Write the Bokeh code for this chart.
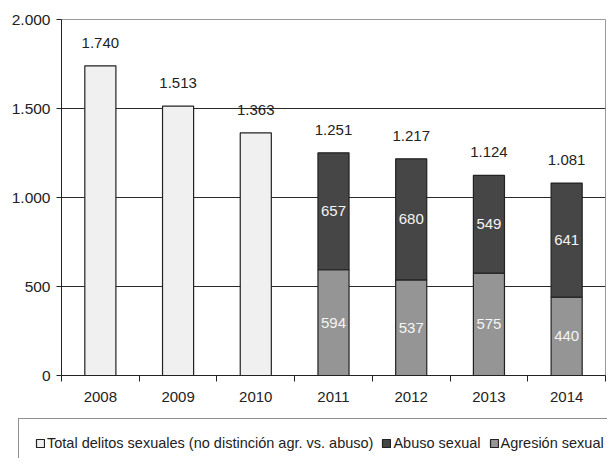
from bokeh.plotting import figure
from bokeh.layouts import column, row
from bokeh.models import (Range1d, FixedTicker, Legend, LegendItem, ColumnDataSource,
                          CustomJSTickFormatter)
from bokeh.core.properties import value
from bokeh.embed import file_html
from bokeh.resources import INLINE

# ---- data ----
years = ["2008", "2009", "2010", "2011", "2012", "2013", "2014"]
years_total = ["2008", "2009", "2010"]
total_vals = [1740, 1513, 1363]
years_split = ["2011", "2012", "2013", "2014"]
agresion = [594, 537, 575, 440]
abuso = [657, 680, 549, 641]
y_ticks = [0, 500, 1000, 1500, 2000]
legend_labels = ["Total delitos sexuales (no distinción agr. vs. abuso)",
                 "Abuso sexual", "Agresión sexual"]

FONT = "Liberation Sans"
C_LIGHT, C_DARK, C_MID, C_LINE = "#f0f0f0", "#464646", "#959595", "#222222"

def fmt(v):
    return f"{v:,}".replace(",", ".")

def xpos(y):
    return years.index(y) + 0.5

p = figure(width=607, height=418, output_backend="svg", toolbar_location=None,
           x_range=Range1d(0, len(years)), y_range=Range1d(0, 2000),
           min_border_left=61, min_border_right=2, min_border_top=19, min_border_bottom=43)
p.background_fill_color = "white"
p.border_fill_color = "white"
p.outline_line_color = "#9a9a9a"
p.outline_line_width = 1

# grid
p.xgrid.visible = False
p.ygrid.ticker = FixedTicker(ticks=[t for t in y_ticks if 0 < t < 2000])
p.ygrid.grid_line_color = "#2a2a2a"

# x axis
p.xaxis.ticker = FixedTicker(ticks=[xpos(y) for y in years],
                             minor_ticks=list(range(0, len(years) + 1)))
p.xaxis.formatter = CustomJSTickFormatter(args=dict(labels=years),
                                          code="return labels[Math.floor(tick)];")
p.xaxis.major_tick_line_color = None
p.xaxis.minor_tick_in = 0
p.xaxis.minor_tick_out = 6
p.xaxis.minor_tick_line_color = C_LINE
p.xaxis.axis_line_color = C_LINE
p.xaxis.major_label_text_font = FONT
p.xaxis.major_label_text_font_size = "15px"
p.xaxis.major_label_text_color = C_LINE
p.xaxis.major_label_standoff = 10

# y axis
p.yaxis.ticker = FixedTicker(ticks=y_ticks)
p.yaxis.formatter = CustomJSTickFormatter(
    code="return tick.toFixed(0).replace(/\\B(?=(\\d{3})+(?!\\d))/g, '.');")
p.yaxis.major_tick_in = 0
p.yaxis.major_tick_out = 5
p.yaxis.minor_tick_line_color = None
p.yaxis.axis_line_color = C_LINE
p.yaxis.major_tick_line_color = C_LINE
p.yaxis.major_label_text_font = FONT
p.yaxis.major_label_text_font_size = "15.5px"
p.yaxis.major_label_text_color = C_LINE
p.yaxis.major_label_standoff = 6

# undifferentiated totals
src_t = ColumnDataSource(dict(x=[xpos(y) for y in years_total], top=total_vals,
                              lab=[fmt(v) for v in total_vals]))
p.vbar(x="x", top="top", width=0.4, source=src_t,
       fill_color=C_LIGHT, line_color=C_LINE, line_width=1.2)

# stacked: agresión (bottom) + abuso (top)
sums = [a + b for a, b in zip(agresion, abuso)]
src_s = ColumnDataSource(dict(
    x=[xpos(y) for y in years_split], agresion=agresion, abuso=abuso,
    total=sums, total_lab=[fmt(v) for v in sums],
    agr_mid=[a / 2 for a in agresion], abu_mid=[a + b / 2 for a, b in zip(agresion, abuso)],
    agr_lab=[str(v) for v in agresion], abu_lab=[str(v) for v in abuso]))
p.vbar_stack(["agresion", "abuso"], x="x", width=0.4, source=src_s,
             fill_color=[C_MID, C_DARK], line_color=C_LINE, line_width=1.2)

lbl = dict(text_font=value(FONT), text_font_size="15px", text_align="center",
           text_baseline="middle")
p.text(x="x", y="top", text="lab", source=src_t, y_offset=-23, text_color=C_LINE, **lbl)
p.text(x="x", y="total", text="total_lab", source=src_s, y_offset=-23, text_color=C_LINE, **lbl)
p.text(x="x", y="agr_mid", text="agr_lab", source=src_s, text_color="#f4f4f4", **lbl)
p.text(x="x", y="abu_mid", text="abu_lab", source=src_s, text_color="#f4f4f4", **lbl)

# legend strip (legend proxies lie outside the strip's ranges, so only the key shows)
q = figure(width=607, height=40, output_backend="svg", toolbar_location=None,
           x_range=Range1d(0, 1), y_range=Range1d(0, 1), min_border=0)
q.axis.visible = False
q.grid.visible = False
q.outline_line_color = None
q.background_fill_color = "white"
q.border_fill_color = "white"
proxy = dict(x=[-10], top=[-10])
lr = [q.vbar(x="x", top="top", width=0.4, source=ColumnDataSource(proxy),
             fill_color=c, line_color=C_LINE, line_width=1.2)
      for c in (C_LIGHT, C_DARK, C_MID)]

legend = Legend(items=[LegendItem(label=l, renderers=[r]) for l, r in zip(legend_labels, lr)],
                orientation="horizontal", location=(18, -10), border_line_color=C_LINE,
                border_line_width=1.2, padding=16, spacing=8, glyph_width=10, glyph_height=10,
                label_standoff=2, label_text_font=FONT, label_text_font_size="14.5px",
                label_text_color=C_LINE, background_fill_color="white",
                background_fill_alpha=1, margin=0)
q.add_layout(legend)

layout = column(p, row(q, spacing=0), spacing=0)
open("out.html", "w").write(file_html(layout, INLINE))
